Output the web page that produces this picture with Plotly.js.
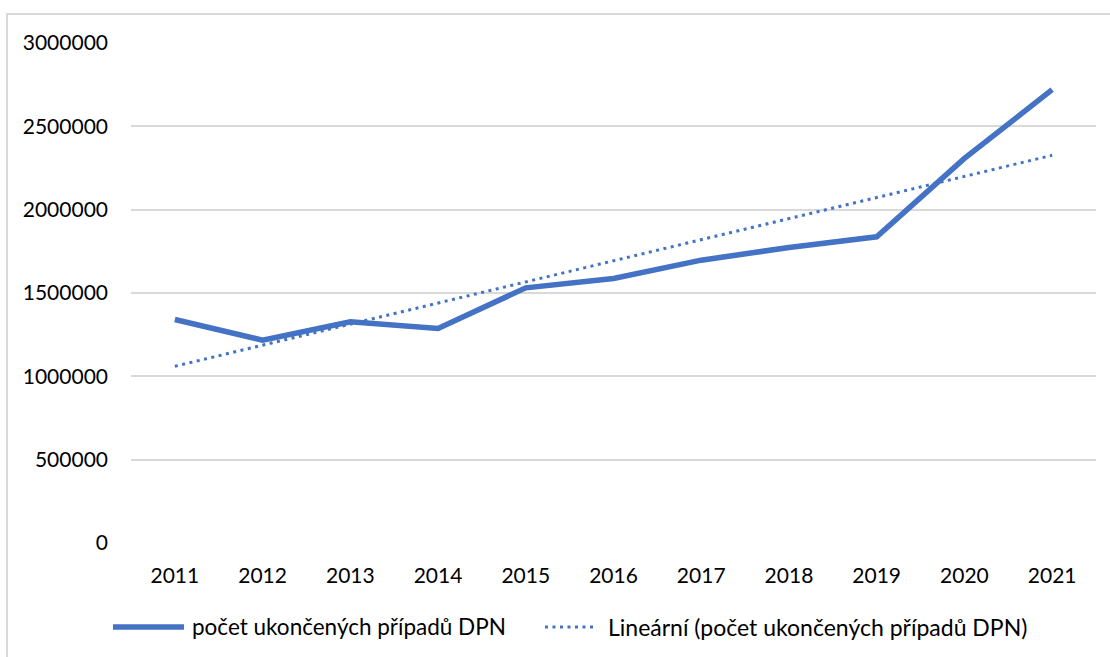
<!DOCTYPE html>
<html>
<head>
<meta charset="utf-8">
<script src="https://cdn.plot.ly/plotly-3.0.1.min.js"></script>
<style>
html,body{margin:0;padding:0;background:#fff;overflow:hidden;}
#frame{position:absolute;left:6px;top:13px;width:1200px;height:800px;border:2px solid #d9d9d9;box-sizing:border-box;pointer-events:none;z-index:5;}
#chart{position:absolute;left:0;top:0;width:1110px;height:657px;}
</style>
</head>
<body>
<div id="chart"></div>
<div id="frame"></div>
<script>
const years = ['2011','2012','2013','2014','2015','2016','2017','2018','2019','2020','2021'];
const cases = [1341000,1217000,1327000,1287000,1531000,1587000,1697000,1773000,1837000,2308000,2720000];
const seriesName = 'počet ukončených případů DPN';
const trendName = 'Lineární (počet ukončených případů DPN)';
const yTicks = [0,500000,1000000,1500000,2000000,2500000,3000000];

// least-squares linear trend of the series (as the spreadsheet trendline does)
const n = cases.length;
const xs = cases.map((_, i) => i + 1);
const mx = xs.reduce((a, b) => a + b, 0) / n;
const my = cases.reduce((a, b) => a + b, 0) / n;
let sxy = 0, sxx = 0;
for (let i = 0; i < n; i++) { sxy += (xs[i] - mx) * (cases[i] - my); sxx += (xs[i] - mx) ** 2; }
const slope = sxy / sxx, icpt = my - slope * mx;
const trend = xs.map(x => icpt + slope * x);

const blue = '#4472C4';
const font = 'Lato, "Open Sans", sans-serif';
const dotDash = '3px,4.5px';

const data = [
  {x: years, y: trend, type: 'scatter', mode: 'lines', name: trendName,
   line: {color: blue, width: 3, dash: dotDash}, hoverinfo: 'skip', showlegend: false},
  {x: years, y: cases, type: 'scatter', mode: 'lines', name: seriesName,
   line: {color: blue, width: 5.5, shape: 'linear'}, showlegend: false}
];

const lyTop = -0.1678;
const layout = {
  width: 1110, height: 657,
  margin: {l: 131, r: 14, t: 42.5, b: 114},
  paper_bgcolor: '#fff', plot_bgcolor: '#fff',
  font: {family: font, size: 21, color: '#000'},
  xaxis: {type: 'category', range: [-0.5, 10.5], showgrid: false, zeroline: false, showline: false,
          ticks: '', tickfont: {size: 21}, ticklabelstandoff: 18, fixedrange: true},
  yaxis: {range: [0, 3000000], tickvals: yTicks, ticktext: yTicks.map(String),
          showgrid: true, gridcolor: '#d9d9d9', gridwidth: 2, zeroline: false,
          showline: false, ticks: '', tickfont: {size: 21}, ticklabelstandoff: 22, fixedrange: true},
  shapes: [
    {type: 'line', xref: 'paper', yref: 'paper', x0: -0.0187, x1: 0.0549, y0: lyTop, y1: lyTop,
     line: {color: blue, width: 5.5}},
    {type: 'line', xref: 'paper', yref: 'paper', x0: 0.429, x1: 0.483, y0: lyTop, y1: lyTop,
     line: {color: blue, width: 3, dash: dotDash}}
  ],
  annotations: [
    {xref: 'paper', yref: 'paper', x: 0.0611, y: lyTop, xanchor: 'left', yanchor: 'middle',
     text: seriesName, showarrow: false, font: {size: 22.5, family: font}},
    {xref: 'paper', yref: 'paper', x: 0.4922, y: lyTop, xanchor: 'left', yanchor: 'middle',
     text: trendName, showarrow: false, font: {size: 23, family: font}}
  ],
  showlegend: false
};

Plotly.newPlot('chart', data, layout, {displayModeBar: false, staticPlot: true});
</script>
</body>
</html>
